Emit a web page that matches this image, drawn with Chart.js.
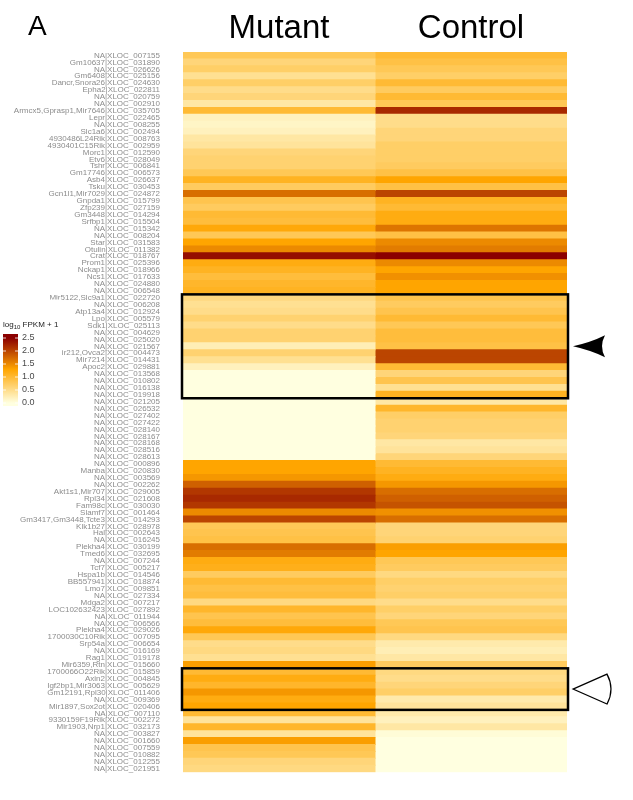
<!DOCTYPE html>
<html><head><meta charset="utf-8">
<script src="https://cdn.jsdelivr.net/npm/chart.js@4.4.1/dist/chart.umd.min.js"></script>
<style>html,body{margin:0;padding:0;background:#fff;}#wrap{width:633px;height:800px;}</style>
</head><body><div id="wrap"><canvas id="c" width="633" height="800"></canvas></div>
<script>
const panelLetter = 'A';
const columns = ['Mutant', 'Control'];
const genes = ['NA','Gm10637','NA','Gm6408','Dancr,Snora26','Epha2','NA','NA','Armcx5,Gprasp1,Mir7646','Lepr',
'NA','Slc1a6','4930486L24Rik','4930401C15Rik','Morc1','Etv6','Tshr','Gm17746','Asb4','Tsku',
'Gcn1l1,Mir7029','Gnpda1','Zfp239','Gm3448','Srfbp1','NA','NA','Star','Otulin','Crat',
'Prom1','Nckap1','Ncs1','NA','NA','Mir5122,Slc9a1','NA','Atp13a4','Lpo','Sdk1',
'NA','NA','NA','Mir212,Ovca2','Mir7214','Apoc2','NA','NA','NA','NA',
'NA','NA','NA','NA','NA','NA','NA','NA','NA','NA',
'Manba','NA','NA','Akt1s1,Mir707','Rpl34','Fam98c','Slamf7','Gm3417,Gm3448,Tcte3','Klk1b27','Hal',
'NA','Plekha4','Tmed6','NA','Tcf7','Hspa1b','BB557941','Lmo7','NA','Mdga2',
'LOC102632423','NA','NA','Plekha4','1700030C10Rik','Srp54a','NA','Rag1','Mir6359,Rtn','1700066O22Rik',
'Axin2','Igf2bp1,Mir3063','Gm12191,Rpl30','NA','Mir1897,Sox2ot','NA','9330159F19Rik','Mir1903,Nrp1','NA','NA',
'NA','NA','NA','NA'];
const xlocs = ['007155','031890','026626','025156','024630','022811','020759','002910','035705','022465',
'008255','002494','008763','002959','012590','028049','006841','006573','026637','030453',
'024872','015799','027159','014294','015504','015342','008204','031583','011382','018767',
'025396','018966','017633','024880','006548','022720','006208','012924','005579','025113',
'004629','025020','021567','004473','014431','029881','013568','010802','016138','019918',
'021205','026532','027402','027422','028140','028167','028168','028516','028613','000896',
'020830','003569','002262','029005','021608','030030','001464','014293','028978','002643',
'016245','030199','032695','007244','005217','014546','018874','009851','027334','007217',
'027892','011944','006566','029026','007095','006654','016169','019178','015660','015859',
'004845','005629','011406','009369','020406','007110','002272','032173','003827','001660',
'007559','010882','012255','021951'];
const mutant = [0.8,0.6,0.7,0.45,0.7,0.5,0.6,0.35,1.0,0.2,
0.15,0.2,0.35,0.4,0.6,0.65,0.65,0.8,1.1,0.75,
1.7,0.85,0.75,1.0,0.95,1.25,0.8,1.3,1.5,2.4,
1.2,1.1,0.95,1.05,1.1,0.55,0.45,0.5,0.65,0.5,
0.65,0.65,0.25,0.65,0.45,0.2,0.0,0.0,0.0,0.0,
0.0,0.0,0.0,0.0,0.0,0.0,0.0,0.0,0.0,1.3,
1.3,1.4,1.8,2.1,2.2,2.1,1.5,2.0,0.8,0.85,
0.9,1.7,1.6,1.2,1.15,0.75,1.0,0.9,0.95,0.55,
1.05,0.85,0.95,1.25,0.8,0.5,0.55,0.45,1.35,1.0,
1.2,1.05,1.4,1.2,1.3,1.0,0.4,1.05,0.4,1.35,
0.85,0.8,0.6,0.55];
const control = [1.0,0.9,0.8,0.7,1.0,0.75,1.0,0.8,2.2,0.5,
0.5,0.6,0.6,0.7,0.7,0.7,0.75,0.9,1.3,0.9,
2.0,1.1,1.0,1.2,1.2,1.65,0.9,1.5,1.6,2.5,
1.5,1.3,1.45,1.3,1.3,0.85,0.75,0.85,1.0,0.8,
0.95,0.95,0.9,2.0,2.0,1.0,0.6,0.85,0.45,1.1,
0.35,1.05,0.7,0.65,0.65,0.6,0.35,0.4,0.6,1.0,
1.1,1.2,1.4,1.7,1.8,1.9,1.45,1.7,0.6,0.6,
0.65,1.35,1.3,0.8,0.75,0.55,0.7,0.65,0.7,0.5,
0.7,0.6,0.8,0.85,0.55,0.3,0.25,0.35,0.75,0.55,
0.5,0.6,0.7,0.3,0.4,0.3,0.2,0.35,0.05,0.0,
0.0,0.0,0.0,0.0];
const legendTicks = [0, 0.5, 1.0, 1.5, 2.0, 2.5];
const boxedRows = [[35, 49], [89, 94]];
const arrowKinds = ['filled', 'open'];

const rowLabels = genes.map((g, i) => g + '|XLOC_' + xlocs[i]);
const palette = [[0, [255, 255, 224]], [1.3, [255, 165, 0]], [2.5, [139, 0, 0]]];
function colorFor(v) {
  v = Math.max(0, Math.min(2.5, v));
  for (let i = 0; i < palette.length - 1; i++) {
    const [a, ca] = palette[i], [b, cb] = palette[i + 1];
    if (v <= b) {
      const t = (v - a) / (b - a);
      const c = ca.map((x, k) => Math.round(x + (cb[k] - x) * t));
      return 'rgb(' + c.join(',') + ')';
    }
  }
  return 'rgb(139,0,0)';
}
const seriesValues = [mutant, control];
const FONT = '"Liberation Sans", Arial, sans-serif';

const decor = {
  id: 'decor',
  afterDraw(chart) {
    const ctx = chart.ctx, ca = chart.chartArea;
    const xs = chart.scales.x, ys = chart.scales.y;
    const h = (ys.bottom - ys.top) / rowLabels.length;
    ctx.save();
    ctx.fillStyle = '#000';
    ctx.font = '28px ' + FONT;
    ctx.textAlign = 'left'; ctx.textBaseline = 'alphabetic';
    ctx.fillText(panelLetter, 28, 35);
    ctx.font = '33px ' + FONT;
    ctx.textAlign = 'center';
    columns.forEach((name, i) => ctx.fillText(name, xs.getPixelForValue(i + 0.5), 38));
    boxedRows.forEach(([a, b], k) => {
      const y1 = ys.getPixelForValue(a) - h / 2, y2 = ys.getPixelForValue(b) + h / 2;
      ctx.lineWidth = 2.5; ctx.strokeStyle = '#000';
      ctx.strokeRect(ca.left - 1, y1, ca.right - ca.left + 2, y2 - y1);
      const yc = (y1 + y2) / 2, xt = ca.right + 6;
      ctx.beginPath();
      if (arrowKinds[k] === 'filled') {
        ctx.moveTo(xt, yc);
        ctx.quadraticCurveTo(xt + 18, yc - 4, xt + 32, yc - 11);
        ctx.quadraticCurveTo(xt + 26, yc, xt + 32, yc + 11);
        ctx.quadraticCurveTo(xt + 18, yc + 4, xt, yc);
        ctx.closePath();
        ctx.fillStyle = '#000'; ctx.fill();
      } else {
        ctx.moveTo(xt, yc);
        ctx.lineTo(xt + 34, yc - 15);
        ctx.quadraticCurveTo(xt + 42, yc, xt + 34, yc + 15);
        ctx.closePath();
        ctx.fillStyle = '#fff'; ctx.fill();
        ctx.lineWidth = 1.2; ctx.stroke();
      }
    });
    ctx.fillStyle = '#fff';
    ctx.fillRect(0, 299.5, 62, 113);
    ctx.fillStyle = '#222';
    ctx.textAlign = 'left'; ctx.textBaseline = 'alphabetic';
    let tx = 3;
    ctx.font = '8px ' + FONT; ctx.fillText('log', tx, 327); tx += ctx.measureText('log').width;
    ctx.font = '6px ' + FONT; ctx.fillText('10', tx, 329); tx += ctx.measureText('10').width;
    ctx.font = '8px ' + FONT; ctx.fillText(' FPKM + 1', tx, 327);
    const bx = 3, bw = 15, y0 = 403, perUnit = 26;
    const top = y0 - 2.5 * perUnit - 4, bot = y0 + 3;
    const g = ctx.createLinearGradient(0, y0, 0, y0 - 2.5 * perUnit);
    palette.forEach(([v]) => g.addColorStop(v / 2.5, colorFor(v)));
    ctx.fillStyle = colorFor(2.5); ctx.fillRect(bx, top, bw, y0 - 2.5 * perUnit - top);
    ctx.fillStyle = colorFor(0); ctx.fillRect(bx, y0, bw, bot - y0);
    ctx.fillStyle = g; ctx.fillRect(bx, y0 - 2.5 * perUnit, bw, 2.5 * perUnit);
    ctx.font = '9px ' + FONT; ctx.fillStyle = '#4a4a4a'; ctx.textBaseline = 'middle';
    ctx.strokeStyle = '#fff'; ctx.lineWidth = 0.8;
    legendTicks.forEach(v => {
      const y = y0 - v * perUnit;
      ctx.beginPath();
      ctx.moveTo(bx, y); ctx.lineTo(bx + 3, y);
      ctx.moveTo(bx + bw - 3, y); ctx.lineTo(bx + bw, y);
      ctx.stroke();
      ctx.fillText(v.toFixed(1), 22, y);
    });
    ctx.restore();
  }
};

new Chart(document.getElementById('c'), {
  type: 'bar',
  data: {
    labels: rowLabels,
    datasets: columns.map((name, ci) => ({
      label: name,
      data: rowLabels.map(() => [ci, ci + 1]),
      backgroundColor: c => colorFor(seriesValues[ci][c.dataIndex]),
      borderWidth: 0,
      barPercentage: 1,
      categoryPercentage: 1,
      grouped: false,
      inflateAmount: 0.5
    }))
  },
  options: {
    indexAxis: 'y',
    responsive: false,
    animation: false,
    layout: { padding: { top: 52, right: 66, bottom: 20, left: 0 } },
    plugins: { legend: { display: false }, tooltip: { enabled: false } },
    scales: {
      x: { type: 'linear', min: 0, max: 2, display: false },
      y: {
        type: 'category', offset: true,
        grid: { display: false, drawTicks: false }, border: { display: false },
        ticks: { autoSkip: false, padding: 23, color: '#8c8c8c', font: { family: FONT, size: 8 } },
        afterFit(s) { s.width = 183; }
      }
    }
  },
  plugins: [decor]
});
</script>
</body></html>
